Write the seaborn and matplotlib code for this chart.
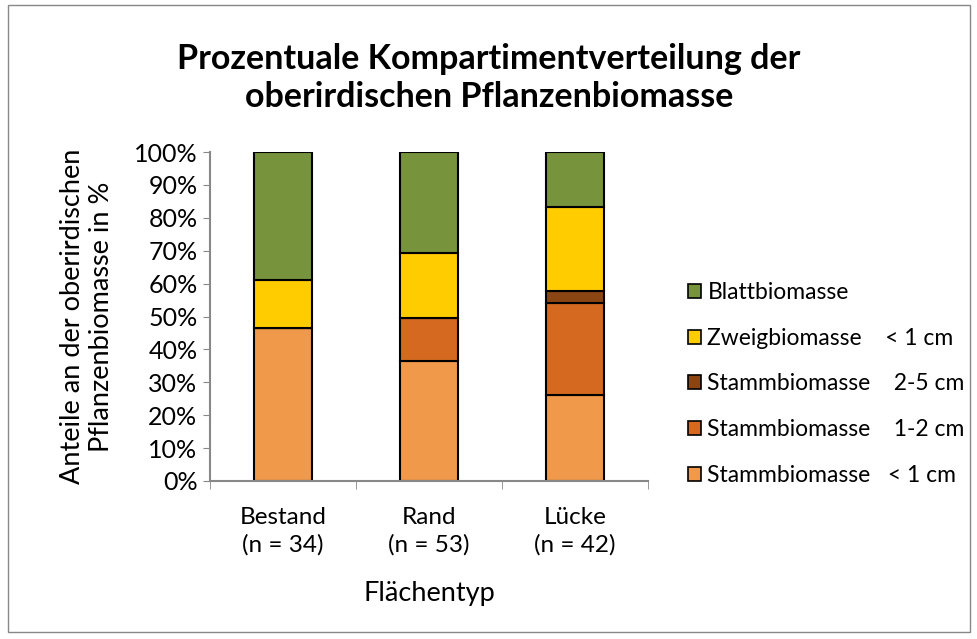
import numpy as np
import pandas as pd
import seaborn as sns
import matplotlib.pyplot as plt
from matplotlib.patches import Patch, Rectangle

# Data (percent shares)
flaechen = ["Bestand\n(n = 34)", "Rand\n(n = 53)", "Lücke\n(n = 42)"]
stamm_lt1 = [46.6, 36.6, 26.0]
stamm_1_2 = [0.0, 12.8, 28.2]
stamm_2_5 = [0.0, 0.0, 3.6]
zweig_lt1 = [14.5, 19.9, 25.4]
blatt = [38.9, 30.7, 16.8]

layers = [
    ("Stammbiomasse   < 1 cm", stamm_lt1, "#F0994B"),
    ("Stammbiomasse    1-2 cm", stamm_1_2, "#D4691F"),
    ("Stammbiomasse    2-5 cm", stamm_2_5, "#8B4513"),
    ("Zweigbiomasse    < 1 cm", zweig_lt1, "#FFCC00"),
    ("Blattbiomasse", blatt, "#77933C"),
]

sns.set_style("white")
plt.rcParams['font.family'] = ['Lato', 'DejaVu Sans']
plt.rcParams['text.color'] = 'black'
plt.rcParams['axes.labelcolor'] = 'black'
plt.rcParams['xtick.labelcolor'] = 'black'
plt.rcParams['ytick.labelcolor'] = 'black'

fig = plt.figure(figsize=(9.78, 6.39), dpi=100)
ax = fig.add_axes([210 / 978, 1 - 481 / 639, 438 / 978, 329 / 639])

bottom = np.zeros(len(flaechen))
for name, vals, col in layers:
    sns.barplot(x=flaechen, y=vals, bottom=bottom, color=col, width=0.4,
                saturation=1, edgecolor="black", linewidth=1.5, ax=ax)
    bottom += np.array(vals)

ax.set_ylim(0, 100)
ax.set_xlim(-0.5, 2.5)
ax.set_yticks(range(0, 101, 10))
ax.set_yticklabels([f"{v}%" for v in range(0, 101, 10)], fontsize=18)
ax.set_xticks([0, 1, 2])
ax.set_xticklabels(flaechen, fontsize=17.5, linespacing=1.35)
ax.tick_params(axis="x", length=0, pad=19)
ax.tick_params(axis="y", length=5, color="#888888", direction="out", left=True, pad=4)
# ticks at category boundaries on x
ax.set_xticks([-0.5, 0.5, 1.5, 2.5], minor=True)
ax.tick_params(axis="x", which="minor", length=6, color="#888888", direction="out", bottom=True)

for s in ["top", "right"]:
    ax.spines[s].set_visible(False)
for s in ["left", "bottom"]:
    ax.spines[s].set_color("#888888")
    ax.spines[s].set_linewidth(1.5)

ax.set_xlabel("Flächentyp", fontsize=19.5, labelpad=18)
ax.set_ylabel("Anteile an der oberirdischen\nPflanzenbiomasse in %", fontsize=19.5, labelpad=14)

fig.text(0.5, 1 - 78 / 639, "Prozentuale Kompartimentverteilung der\noberirdischen Pflanzenbiomasse",
         ha="center", va="center", fontsize=24.5, fontweight="bold", linespacing=1.2)

handles = [Patch(facecolor=col, edgecolor="black", linewidth=1.2, label=name)
           for name, vals, col in layers[::-1]]
fig.legend(handles=handles, loc="upper left", bbox_to_anchor=(688 / 978, 1 - 282 / 639),
           frameon=False, fontsize=16.5, handlelength=0.55, handleheight=0.55,
           handletextpad=0.3, labelspacing=1.08, borderaxespad=0, borderpad=0)

fig.patches.append(Rectangle((8 / 978, 1 - 632 / 639), 962 / 978, 627 / 639,
                             transform=fig.transFigure, fill=False,
                             edgecolor="#888888", linewidth=1))

fig.savefig("out.png", dpi=100)
